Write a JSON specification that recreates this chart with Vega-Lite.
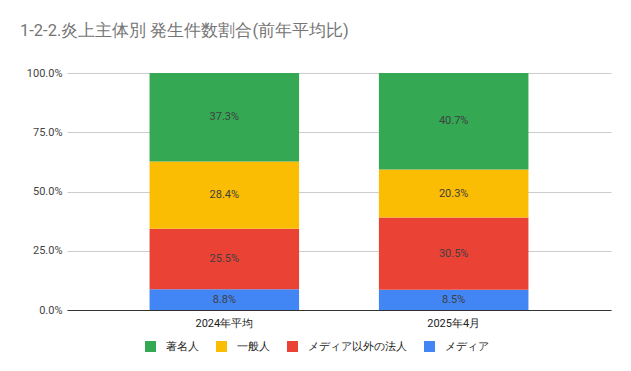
{
  "$schema": "https://vega.github.io/schema/vega-lite/v6.json",
  "width": 544,
  "height": 237,
  "autosize": {"type": "none"},
  "padding": {"left": 67, "top": 73, "right": 20, "bottom": 61},
  "background": "white",
  "config": {
    "view": {"stroke": null},
    "font": "Roboto"
  },
  "title": {
    "text": "1-2-2.炎上主体別 発生件数割合(前年平均比)",
    "anchor": "start",
    "frame": "group",
    "dx": -47,
    "offset": 28,
    "fontSize": 16.5,
    "fontWeight": "normal",
    "color": "#757575",
    "font": "Roboto"
  },
  "data": {
    "values": [
      {"period": "2024年平均", "group": "メディア", "value": 0.088},
      {"period": "2024年平均", "group": "メディア以外の法人", "value": 0.255},
      {"period": "2024年平均", "group": "一般人", "value": 0.284},
      {"period": "2024年平均", "group": "著名人", "value": 0.373},
      {"period": "2025年4月", "group": "メディア", "value": 0.085},
      {"period": "2025年4月", "group": "メディア以外の法人", "value": 0.305},
      {"period": "2025年4月", "group": "一般人", "value": 0.203},
      {"period": "2025年4月", "group": "著名人", "value": 0.407}
    ]
  },
  "transform": [
    {"calculate": "indexof(['メディア','メディア以外の法人','一般人','著名人'], datum.group)", "as": "ord"},
    {"stack": "value", "groupby": ["period"], "sort": [{"field": "ord", "order": "ascending"}], "as": ["v0", "v1"]},
    {"calculate": "(datum.v0 + datum.v1) / 2", "as": "mid"}
  ],
  "encoding": {
    "x": {
      "field": "period",
      "type": "nominal",
      "sort": ["2024年平均", "2025年4月"],
      "scale": {"paddingInner": 0.348, "paddingOuter": 0.36},
      "axis": {
        "title": null,
        "labelAngle": 0,
        "ticks": false,
        "domainColor": "#333333",
        "domainWidth": 1,
        "labelColor": "#222222",
        "labelFontSize": 11,
        "labelPadding": 7,
        "labelFont": "Roboto"
      }
    }
  },
  "layer": [
    {
      "mark": {"type": "bar"},
      "encoding": {
        "y": {
          "field": "v0",
          "type": "quantitative",
          "scale": {"domain": [0, 1], "nice": false},
          "axis": {
            "title": null,
            "format": ".1%",
            "values": [0, 0.25, 0.5, 0.75, 1],
            "domain": false,
            "ticks": false,
            "gridColor": "#cccccc",
            "labelColor": "#444444",
            "labelFontSize": 11,
            "labelPadding": 5,
            "labelFont": "Roboto"
          }
        },
        "y2": {"field": "v1"},
        "color": {
          "field": "group",
          "type": "nominal",
          "scale": {
            "domain": ["著名人", "一般人", "メディア以外の法人", "メディア"],
            "range": ["#34A853", "#FBBC04", "#EA4335", "#4285F4"]
          },
          "legend": {
            "title": null,
            "orient": "none",
            "direction": "horizontal",
            "legendX": 78,
            "legendY": 268,
            "symbolType": "square",
            "symbolSize": 121,
            "symbolStrokeWidth": 0,
            "symbolOpacity": 1,
            "labelFontSize": 11,
            "labelColor": "#222222",
            "labelOffset": 10,
            "columnPadding": 17,
            "labelFont": "Roboto"
          }
        }
      }
    },
    {
      "mark": {"type": "text", "fontSize": 11, "color": "#404040", "font": "Roboto"},
      "encoding": {
        "y": {"field": "mid", "type": "quantitative"},
        "text": {"field": "value", "type": "quantitative", "format": ".1%"}
      }
    }
  ]
}
